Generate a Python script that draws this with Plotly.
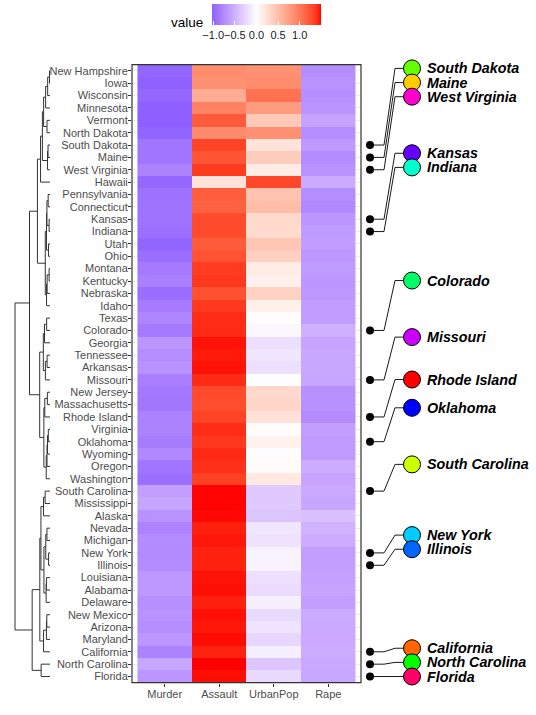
import numpy as np
import plotly.graph_objects as go

W, H = 536, 715

# ---------------- data ----------------
states = ["New Hampshire", "Iowa", "Wisconsin", "Minnesota", "Vermont", "North Dakota",
          "South Dakota", "Maine", "West Virginia", "Hawaii", "Pennsylvania", "Connecticut",
          "Kansas", "Indiana", "Utah", "Ohio", "Montana", "Kentucky", "Nebraska", "Idaho",
          "Texas", "Colorado", "Georgia", "Tennessee", "Arkansas", "Missouri", "New Jersey",
          "Massachusetts", "Rhode Island", "Virginia", "Oklahoma", "Wyoming", "Oregon",
          "Washington", "South Carolina", "Mississippi", "Alaska", "Nevada", "Michigan",
          "New York", "Illinois", "Louisiana", "Alabama", "Delaware", "New Mexico", "Arizona",
          "Maryland", "California", "North Carolina", "Florida"]
variables = ["Murder", "Assault", "UrbanPop", "Rape"]

# row-standardised values drawn in the heatmap
z_murder = [-0.987, -1.016, -0.980, -1.028, -1.025, -0.999, -0.890, -0.887, -0.805, -0.979,
            -0.916, -0.910, -0.909, -0.928, -0.999, -0.940, -0.862, -0.815, -0.937, -0.851,
            -0.781, -0.862, -0.678, -0.734, -0.696, -0.825, -0.870, -0.884, -0.807, -0.801,
            -0.839, -0.764, -0.889, -0.931, -0.607, -0.579, -0.703, -0.803, -0.743, -0.748,
            -0.741, -0.664, -0.660, -0.717, -0.701, -0.729, -0.672, -0.797, -0.573, -0.673]
z_assault = [0.878, 0.841, 0.639, 0.940, 1.195, 0.882, 1.320, 1.231, 1.356, 0.217,
             1.184, 1.154, 1.281, 1.285, 1.189, 1.239, 1.352, 1.369, 1.248, 1.364,
             1.411, 1.414, 1.468, 1.456, 1.467, 1.412, 1.287, 1.272, 1.318, 1.405,
             1.372, 1.416, 1.389, 1.331, 1.490, 1.491, 1.483, 1.447, 1.459, 1.435,
             1.437, 1.468, 1.474, 1.444, 1.472, 1.460, 1.477, 1.439, 1.494, 1.474]
z_urbanpop = [0.844, 0.876, 1.057, 0.770, 0.419, 0.839, 0.218, 0.393, 0.151, 1.304,
              0.468, 0.515, 0.296, 0.281, 0.440, 0.369, 0.148, 0.115, 0.353, 0.119,
              0.002, -0.048, -0.206, -0.160, -0.204, -0.017, 0.291, 0.318, 0.234, 0.014,
              0.101, -0.012, 0.029, 0.176, -0.341, -0.341, -0.375, -0.158, -0.182, -0.075,
              -0.078, -0.202, -0.231, -0.102, -0.235, -0.178, -0.257, -0.110, -0.368, -0.239]
z_rape = [-0.736, -0.702, -0.717, -0.682, -0.589, -0.722, -0.648, -0.738, -0.701, -0.541,
          -0.735, -0.759, -0.668, -0.639, -0.630, -0.668, -0.638, -0.670, -0.664, -0.632,
          -0.632, -0.504, -0.585, -0.562, -0.568, -0.570, -0.708, -0.706, -0.746, -0.619,
          -0.634, -0.640, -0.529, -0.575, -0.543, -0.571, -0.405, -0.486, -0.534, -0.613,
          -0.617, -0.602, -0.583, -0.625, -0.536, -0.553, -0.549, -0.532, -0.553, -0.562]

# original arrest figures (used for the row dendrogram)
raw_murder = [2.1, 2.2, 2.6, 2.7, 2.2, 0.8, 3.8, 2.1, 5.7, 5.3, 6.3, 3.3, 6.0, 7.2, 3.2, 7.3,
              6.0, 9.7, 4.3, 2.6, 12.7, 7.9, 17.4, 13.2, 8.8, 9.0, 7.4, 4.4, 3.4, 8.5, 6.6, 6.8,
              4.9, 4.0, 14.4, 16.1, 10.0, 12.2, 12.1, 11.1, 10.4, 15.4, 13.2, 5.9, 11.4, 8.1,
              11.3, 9.0, 13.0, 15.4]
raw_assault = [57, 56, 53, 72, 48, 45, 86, 83, 81, 46, 106, 110, 115, 113, 120, 120, 109, 109,
               102, 120, 201, 204, 211, 188, 190, 178, 159, 149, 174, 156, 151, 161, 159, 145,
               279, 259, 263, 252, 255, 254, 249, 249, 236, 238, 285, 294, 300, 276, 337, 335]
raw_urbanpop = [56, 57, 66, 66, 32, 44, 45, 51, 39, 83, 72, 77, 66, 65, 80, 75, 53, 52, 62, 54,
                80, 78, 60, 59, 50, 70, 89, 85, 87, 63, 68, 60, 67, 73, 48, 44, 48, 81, 74, 86,
                83, 66, 58, 72, 70, 80, 67, 91, 45, 80]
raw_rape = [9.5, 11.3, 10.8, 14.9, 11.2, 7.3, 12.8, 7.8, 9.3, 20.2, 14.9, 11.1, 18.0, 21.0,
            22.9, 21.4, 16.4, 16.3, 16.5, 14.2, 25.5, 38.7, 25.8, 26.9, 19.5, 28.2, 18.8, 16.3,
            8.3, 20.7, 20.0, 15.6, 29.3, 26.2, 22.5, 17.1, 44.5, 46.0, 35.1, 26.1, 24.0, 22.2,
            21.2, 15.8, 32.1, 31.0, 27.8, 40.6, 16.1, 31.9]

marked_states = ["South Dakota", "Maine", "West Virginia", "Kansas", "Indiana", "Colorado",
                 "Missouri", "Rhode Island", "Oklahoma", "South Carolina", "New York",
                 "Illinois", "California", "North Carolina", "Florida"]
marked_colors = ["#66FF00", "#FFCC00", "#FF00CC", "#6600FF", "#00FFCC", "#00FF66",
                 "#CC00FF", "#FF0000", "#0000FF", "#CCFF00", "#00CCFF",
                 "#0066FF", "#FF6600", "#00FF00", "#FF0066"]

colorbar_ticks = [-1.0, -0.5, 0.0, 0.5, 1.0]

# ---------------- colour scale (white mid, Lab interpolation) ----------------
_M = np.array([[0.4124564, 0.3575761, 0.1804375],
               [0.2126729, 0.7151522, 0.0721750],
               [0.0193339, 0.1191920, 0.9503041]])
_Mi = np.linalg.inv(_M)
_WN = np.array([0.95047, 1.0, 1.08883])


def hex_to_lab(h):
    rgb = np.array([int(h[i:i + 2], 16) / 255 for i in (1, 3, 5)])
    lin = np.where(rgb <= 0.04045, rgb / 12.92, ((rgb + 0.055) / 1.055) ** 2.4)
    xyz = _M @ lin / _WN
    d = 6 / 29
    f = np.where(xyz > d ** 3, np.cbrt(xyz), xyz / (3 * d * d) + 4 / 29)
    return np.array([116 * f[1] - 16, 500 * (f[0] - f[1]), 200 * (f[1] - f[2])])


def lab_to_hex(lab):
    L, a, b = lab
    fy = (L + 16) / 116
    f = np.array([fy + a / 500, fy, fy - b / 200])
    d = 6 / 29
    xyz = np.where(f > d, f ** 3, 3 * d * d * (f - 4 / 29)) * _WN
    lin = np.clip(_Mi @ xyz, 0, 1)
    s = np.where(lin <= 0.0031308, 12.92 * lin, 1.055 * lin ** (1 / 2.4) - 0.055)
    s = np.clip(np.round(s * 255), 0, 255).astype(int)
    return "#%02X%02X%02X" % tuple(s)


LOW, MID, HIGH = hex_to_lab("#0000FF"), hex_to_lab("#FFFFFF"), hex_to_lab("#FF0000")

zmat = np.column_stack([z_murder, z_assault, z_urbanpop, z_rape])
zmin, zmax = float(zmat.min()), float(zmat.max())
maxabs = max(abs(zmin), abs(zmax))
colorscale = []
NS = 61
for i in range(NS):
    v = zmin + (zmax - zmin) * i / (NS - 1)
    t = v / maxabs
    lab = MID + (LOW - MID) * (-t) if t < 0 else MID + (HIGH - MID) * t
    colorscale.append([i / (NS - 1), lab_to_hex(lab)])

# ---------------- dendrogram (average linkage on the arrest figures) ----------------
feats = np.column_stack([raw_murder, raw_assault, raw_urbanpop, raw_rape]).astype(float)
n = len(states)
D = np.sqrt(((feats[:, None, :] - feats[None, :, :]) ** 2).sum(-1))
dd = {}
for i in range(n):
    for j in range(n):
        dd[(i, j)] = D[i, j]
active = list(range(n))
size = {i: 1 for i in range(n)}
ypos = {i: float(i) for i in range(n)}
hgt = {i: 0.0 for i in range(n)}
seg_x, seg_y = [], []
nid = n
while len(active) > 1:
    best = None
    for ii in range(len(active)):
        for jj in range(ii + 1, len(active)):
            a, b = active[ii], active[jj]
            if best is None or dd[(a, b)] < best[0]:
                best = (dd[(a, b)], a, b)
    d, a, b = best
    seg_x += [hgt[a], d, d, hgt[b], None]
    seg_y += [ypos[a], ypos[a], ypos[b], ypos[b], None]
    new = nid
    nid += 1
    size[new] = size[a] + size[b]
    ypos[new] = (ypos[a] + ypos[b]) / 2
    hgt[new] = d
    for c in active:
        if c not in (a, b):
            v = (size[a] * dd[(c, a)] + size[b] * dd[(c, b)]) / size[new]
            dd[(c, new)] = v
            dd[(new, c)] = v
    active = [c for c in active if c not in (a, b)] + [new]
root_h = hgt[active[0]]

# ---------------- layout geometry (pixels) ----------------
def px_x(p):
    return p / W


def px_y(p):
    return 1 - p / H


panel_l, panel_r = 132, 361
panel_t, panel_b = 64.7, 682.7
yrange = [n - 0.5, -0.5]

fig = go.Figure()

fig.add_trace(go.Heatmap(
    z=zmat, x=list(range(len(variables))), y=list(range(n)),
    zmin=zmin, zmax=zmax, colorscale=colorscale,
    xaxis="x", yaxis="y", hoverinfo="skip",
    colorbar=dict(orientation="h", x=px_x(212), xanchor="left", y=px_y(4), yanchor="top",
                  len=109, lenmode="pixels", thickness=21, thicknessmode="pixels",
                  outlinewidth=0, xpad=0, ypad=0,
                  tickvals=colorbar_ticks,
                  ticktext=[("\u2212%.1f" % -t) if t < 0 else "%.1f" % t for t in colorbar_ticks],
                  tickangle=0,
                  ticks="inside", ticklen=4, tickcolor="white", tickwidth=1,
                  tickfont=dict(family="Liberation Sans, Arial", size=11, color="#1A1A1A"),
                  title=dict(text="")),
))

# dendrogram
fig.add_trace(go.Scatter(x=seg_x, y=seg_y, mode="lines", xaxis="x2", yaxis="y2",
                         line=dict(color="#333333", width=1), hoverinfo="skip",
                         showlegend=False))

# marked labels on the right
row_idx = [states.index(s) for s in marked_states]
r0, r1 = min(row_idx), max(row_idx)
lab_pos = [-0.2 + (r - r0) * (n - 0.8) / (r1 - r0) for r in row_idx]
x_dot, x_bend1, x_bend2, x_circle, x_text = 370, 384, 395, 412, 424.5
for r, lp in zip(row_idx, lab_pos):
    fig.add_trace(go.Scatter(x=[x_dot, x_bend1, x_bend2, x_circle], y=[r, r, lp, lp],
                             mode="lines", xaxis="x3", yaxis="y3",
                             line=dict(color="#1A1A1A", width=1), hoverinfo="skip",
                             showlegend=False))
fig.add_trace(go.Scatter(x=[x_dot] * len(row_idx), y=row_idx, mode="markers",
                         xaxis="x3", yaxis="y3", cliponaxis=False,
                         marker=dict(color="black", size=8), hoverinfo="skip",
                         showlegend=False))
fig.add_trace(go.Scatter(x=[x_circle] * len(row_idx), y=lab_pos, mode="markers",
                         xaxis="x3", yaxis="y3", cliponaxis=False,
                         marker=dict(color=marked_colors, size=17,
                                     line=dict(color="black", width=1)),
                         hoverinfo="skip", showlegend=False))
for s, lp in zip(marked_states, lab_pos):
    fig.add_annotation(x=x_text, y=lp, xref="x3", yref="y3", text="<b><i>%s</i></b>" % s,
                       showarrow=False, xanchor="left", yanchor="middle",
                       font=dict(family="Liberation Sans, Arial", size=14.3, color="black"))

fig.add_annotation(x=px_x(205), y=px_y(22), xref="paper", yref="paper", text="value",
                   showarrow=False, xanchor="right", yanchor="middle",
                   font=dict(family="Liberation Sans, Arial", size=13.5, color="black"))

ydom = [px_y(panel_b), px_y(panel_t)]
axis_font = dict(family="Liberation Sans, Arial", size=11, color="#4D4D4D")
fig.update_layout(
    width=W, height=H, autosize=False,
    margin=dict(l=0, r=0, t=0, b=0, autoexpand=False),
    paper_bgcolor="white", plot_bgcolor="white",
    xaxis=dict(domain=[px_x(panel_l), px_x(panel_r)], range=[-0.6, 3.6],
               tickvals=list(range(len(variables))), ticktext=variables,
               ticks="outside", ticklen=3, tickcolor="#333333", tickwidth=1,
               ticklabelstandoff=-2,
               tickfont=axis_font, showgrid=False, zeroline=False, anchor="y",
               fixedrange=True),
    yaxis=dict(domain=ydom, range=yrange, tickvals=list(range(n)), ticktext=states,
               ticks="outside", ticklen=3, tickcolor="#333333", tickwidth=1,
               ticklabelstandoff=-2,
               tickfont=axis_font, showgrid=True, gridcolor="#EBEBEB", gridwidth=1,
               zeroline=False, anchor="x", fixedrange=True),
    xaxis2=dict(domain=[0, px_x(60)], range=[root_h * 50 / 35, -root_h * 10 / 35],
                visible=False, anchor="y2"),
    yaxis2=dict(domain=ydom, range=yrange, visible=False, anchor="x2"),
    xaxis3=dict(domain=[px_x(362), 1], range=[362, 536], visible=False, anchor="y3"),
    yaxis3=dict(domain=ydom, range=yrange, visible=False, anchor="x3"),
    shapes=[dict(type="rect", xref="x domain", yref="y domain", x0=0, x1=1, y0=0, y1=1,
                 line=dict(color="#333333", width=1.2), fillcolor="rgba(0,0,0,0)",
                 layer="above")],
)

fig.write_html("out.html", config={"displayModeBar": False, "staticPlot": True},
               post_script="document.body.style.margin='0';document.body.style.padding='0';")
